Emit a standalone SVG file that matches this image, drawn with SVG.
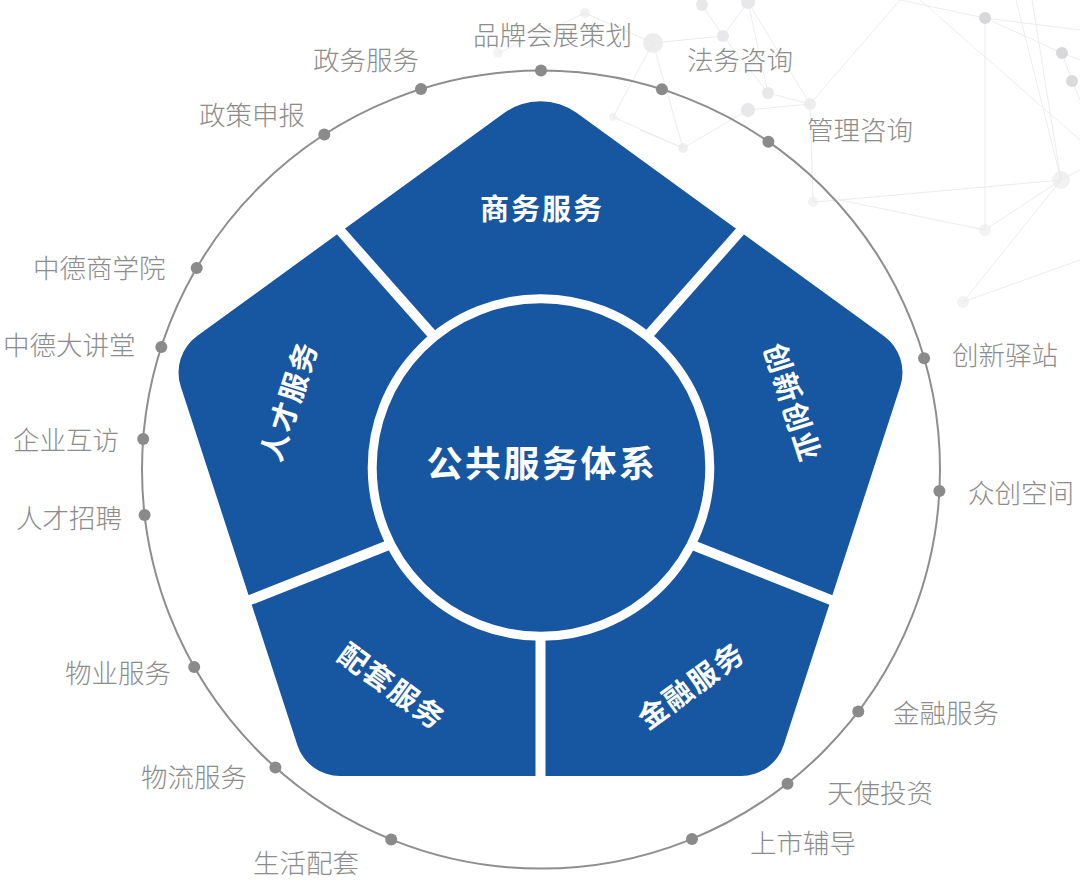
<svg xmlns="http://www.w3.org/2000/svg" xmlns:xlink="http://www.w3.org/1999/xlink" width="1080" height="888" viewBox="0 0 1080 888">
  <style>
    .bgl { stroke: #ececee; stroke-width: 1; fill: none; }
    .bgd { fill: #e8e8ea; }
    .ring { fill: none; stroke: #8e8e8e; stroke-width: 2; }
    .dot { fill: #8a8a8a; }
    .lbl { font-family: "Noto Sans CJK SC", "Noto Sans", sans-serif; font-size: 26.5px; font-weight: 300; fill: #8c8c8c; }
    .seg { fill: #1756a0; }
    .segt { font-family: "Noto Sans CJK SC", "Noto Sans", sans-serif; font-size: 29px; font-weight: 700; fill: #ffffff; text-anchor: middle; letter-spacing: 2px; }
    .div { stroke: #ffffff; stroke-width: 10; fill: none; }
    .hub { fill: #1756a0; stroke: #ffffff; stroke-width: 9; }
    .hubt { font-family: "Noto Sans CJK SC", "Noto Sans", sans-serif; font-size: 36px; font-weight: 700; fill: #ffffff; text-anchor: middle; letter-spacing: 2.5px; }
  </style>
  <defs>
    <path id="pent" d="M 504.1 113 L 197.1 336 A 45 45 0 0 0 180.7 386.3 L 297.3 744.9 A 45 45 0 0 0 340.1 776 L 740.9 776 A 45 45 0 0 0 783.7 744.9 L 900.3 386.3 A 45 45 0 0 0 883.9 336 L 576.9 113 A 62 62 0 0 0 504.1 113 Z"/>
    <clipPath id="cTop"><polygon points="541,467 473.6,381.3 142,6.8 939,6.8 607.4,381.3"/></clipPath>
    <clipPath id="cRight"><polygon points="541,467 607.4,381.3 939,6.8 1109.5,710.7 626.4,518.8"/></clipPath>
    <clipPath id="cBR"><polygon points="541,467 626.4,518.8 1109.5,710.7 540.5,1000 540.5,560"/></clipPath>
    <clipPath id="cBL"><polygon points="541,467 540.5,560 540.5,1000 -28.5,710.7 454.6,518.8"/></clipPath>
    <clipPath id="cLeft"><polygon points="541,467 454.6,518.8 -28.5,710.7 142,6.8 473.6,381.3"/></clipPath>
  </defs>

  <rect x="0" y="0" width="1080" height="888" fill="#ffffff"/>

  <g id="background-network">
    <path class="bgl" d="M 985 18 L 1062 53 M 985 18 L 1080 30 M 985 18 L 985 230 M 900 0 L 985 18 M 1016 0 L 1061 180 M 1032 0 L 1061 180 M 1062 53 L 1072 81 M 1072 81 L 1080 100 M 920 0 L 1080 140 M 1061 180 L 963 302 M 1061 180 L 985 230 M 1061 180 L 840 200 M 1061 180 L 1080 170 M 963 302 L 1080 260 M 900 0 L 810 104 M 810 104 L 768 93 M 810 104 L 748 110 M 748 2 L 768 93 M 748 2 L 810 104 M 653 43 L 723 36 M 723 36 L 768 93 M 702 5 L 723 36 M 683 148 L 748 110 M 683 148 L 640 130 M 723 36 L 748 2 M 813 202 L 810 104 M 813 202 L 840 200 M 653 43 L 683 148 M 585 13 L 653 43 M 498 53 L 585 13 M 613 117 L 683 148 M 613 117 L 653 43 M 985 230 L 840 200 M 1062 53 L 1080 60"/>
    <circle class="bgd" cx="653" cy="43" r="10" fill-opacity="0.8"/>
    <circle class="bgd" cx="702" cy="5" r="6"/>
    <circle class="bgd" cx="748" cy="2" r="7"/>
    <circle class="bgd" cx="723" cy="36" r="6"/>
    <circle class="bgd" cx="768" cy="93" r="6"/>
    <circle class="bgd" cx="748" cy="110" r="7"/>
    <circle class="bgd" cx="810" cy="104" r="6" fill-opacity="0.8"/>
    <circle class="bgd" cx="683" cy="148" r="5" fill-opacity="0.7"/>
    <circle class="bgd" cx="813" cy="202" r="5" fill-opacity="0.5"/>
    <circle cx="985" cy="18" r="6" fill="#d8d8da"/>
    <circle cx="1062" cy="53" r="6" fill="#d8d8da"/>
    <circle cx="1072" cy="81" r="6" fill="#dadadc"/>
    <circle class="bgd" cx="1061" cy="180" r="9" fill-opacity="0.6"/>
    <circle class="bgd" cx="985" cy="230" r="6" fill-opacity="0.5"/>
    <circle class="bgd" cx="963" cy="302" r="6" fill-opacity="0.5"/>
    <circle class="bgd" cx="498" cy="53" r="5" fill-opacity="0.5"/>
    <circle class="bgd" cx="585" cy="13" r="5" fill-opacity="0.6"/>
    <circle class="bgd" cx="613" cy="117" r="4" fill-opacity="0.5"/>
  </g>

  <g id="outer-ring">
    <circle class="ring" cx="541" cy="469.6" r="399"/>
  </g>

  <g id="item-pinpai"><circle class="dot" cx="541" cy="70.6" r="6"/><text class="lbl" x="473" y="45">品牌会展策划</text></g>
  <g id="item-zhengwu"><circle class="dot" cx="421" cy="89.1" r="6"/><text class="lbl" x="313" y="70">政务服务</text></g>
  <g id="item-zhengce"><circle class="dot" cx="324.3" cy="134.5" r="6"/><text class="lbl" x="199" y="125">政策申报</text></g>
  <g id="item-fawu"><circle class="dot" cx="661.9" cy="89.3" r="6"/><text class="lbl" x="687" y="70">法务咨询</text></g>
  <g id="item-guanli"><circle class="dot" cx="768.4" cy="141.8" r="6"/><text class="lbl" x="807" y="140">管理咨询</text></g>
  <g id="item-shangxueyuan"><circle class="dot" cx="196.7" cy="268" r="6"/><text class="lbl" x="33" y="278">中德商学院</text></g>
  <g id="item-dajiangtang"><circle class="dot" cx="161.3" cy="347.1" r="6"/><text class="lbl" x="3" y="355">中德大讲堂</text></g>
  <g id="item-hufang"><circle class="dot" cx="143.2" cy="439" r="6"/><text class="lbl" x="13" y="450">企业互访</text></g>
  <g id="item-zhaopin"><circle class="dot" cx="144.6" cy="514.9" r="6"/><text class="lbl" x="16" y="528">人才招聘</text></g>
  <g id="item-yizhan"><circle class="dot" cx="924.1" cy="358.2" r="6"/><text class="lbl" x="952" y="365">创新驿站</text></g>
  <g id="item-zhongchuang"><circle class="dot" cx="939.4" cy="491" r="6"/><text class="lbl" x="968" y="503">众创空间</text></g>
  <g id="item-wuye"><circle class="dot" cx="194.2" cy="666.9" r="6"/><text class="lbl" x="65" y="683">物业服务</text></g>
  <g id="item-wuliu"><circle class="dot" cx="275.4" cy="767.5" r="6"/><text class="lbl" x="141" y="787">物流服务</text></g>
  <g id="item-shenghuo"><circle class="dot" cx="391.2" cy="839.5" r="6"/><text class="lbl" x="253" y="873">生活配套</text></g>
  <g id="item-jinrong"><circle class="dot" cx="858.3" cy="711.5" r="6"/><text class="lbl" x="893" y="723">金融服务</text></g>
  <g id="item-tianshi"><circle class="dot" cx="787.5" cy="783.8" r="6"/><text class="lbl" x="827" y="803">天使投资</text></g>
  <g id="item-shangshi"><circle class="dot" cx="692" cy="838.9" r="6"/><text class="lbl" x="750" y="853">上市辅导</text></g>

  <g id="seg-shangwu">
    <use xlink:href="#pent" href="#pent" class="seg" clip-path="url(#cTop)"/>
    <text class="segt" x="542" y="220">商务服务</text>
  </g>
  <g id="seg-chuangxin">
    <use xlink:href="#pent" href="#pent" class="seg" clip-path="url(#cRight)"/>
    <text class="segt" transform="translate(792,402) rotate(72)" x="1" y="10.5">创新创业</text>
  </g>
  <g id="seg-jinrong">
    <use xlink:href="#pent" href="#pent" class="seg" clip-path="url(#cBR)"/>
    <text class="segt" transform="translate(690.6,686) rotate(-36)" x="1" y="10.5">金融服务</text>
  </g>
  <g id="seg-peitao">
    <use xlink:href="#pent" href="#pent" class="seg" clip-path="url(#cBL)"/>
    <text class="segt" transform="translate(391,686) rotate(36)" x="1" y="10.5">配套服务</text>
  </g>
  <g id="seg-rencai">
    <use xlink:href="#pent" href="#pent" class="seg" clip-path="url(#cLeft)"/>
    <text class="segt" transform="translate(289,402) rotate(-72)" x="1" y="10.5">人才服务</text>
  </g>

  <g id="dividers">
    <line class="div" x1="334.4" y1="224" x2="473.6" y2="381.3"/>
    <line class="div" x1="746.6" y1="224" x2="607.4" y2="381.3"/>
    <line class="div" x1="840.1" y1="603.7" x2="626.4" y2="518.8"/>
    <line class="div" x1="240.9" y1="603.7" x2="454.6" y2="518.8"/>
    <line class="div" x1="540.5" y1="790" x2="540.5" y2="560"/>
  </g>

  <g id="hub">
    <circle class="hub" cx="541" cy="467.5" r="168.8"/>
    <text class="hubt" x="542" y="477">公共服务体系</text>
  </g>
</svg>
